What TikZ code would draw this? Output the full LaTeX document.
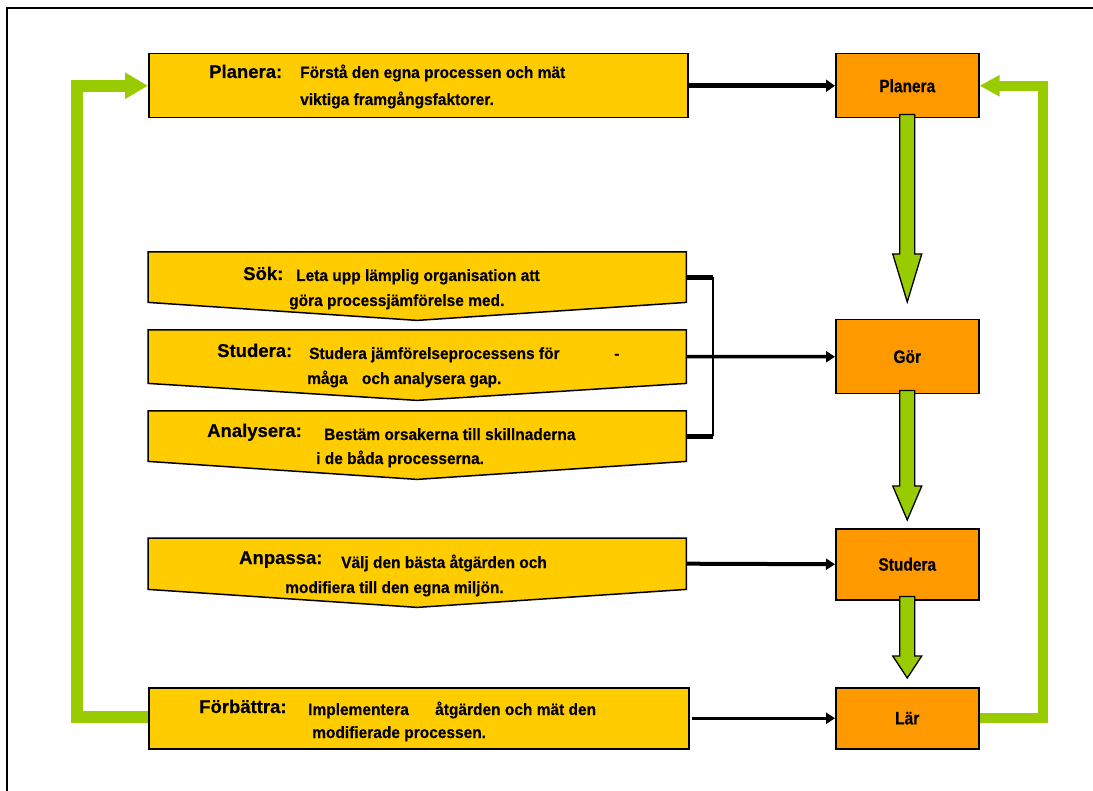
\documentclass[tikz,border=0pt]{standalone}
\usepackage{fontspec}
\setmainfont{Liberation Sans}[FakeBold=0.4]
\newfontfamily\descf{Liberation Sans}[FakeStretch=0.95, FakeBold=0.4]
\newfontfamily\orgf{Liberation Sans}[FakeStretch=0.86, FakeBold=0.4]
\usetikzlibrary{arrows.meta,calc}
\definecolor{yel}{HTML}{FFCC00}
\definecolor{org}{HTML}{FF9900}
\definecolor{grn}{HTML}{99CC00}
\newcommand\garrow[4]{%
  \draw[fill=grn, line width=1.3pt, line join=miter]
    ($(#1.south)+(-7.5,-4)$) -- ($(#2.north)+(-7.5,-#4)$) -- ($(#2.north)+(-14.5,-#4)$)
    -- ($(#2.north)+(0,-#3)$) -- ($(#2.north)+(14.5,-#4)$) -- ($(#2.north)+(7.5,-#4)$)
    -- ($(#1.south)+(7.5,-4)$) -- cycle;}
\newcommand\chevron[2]{%
  \fill[yel] (#1.north west) -- (#1.north east) -- (#1.south east) -- ($(#1.south)+(0,#2)$) -- (#1.south west) -- cycle;
  \draw[line width=1.5pt, line join=miter] (#1.north west) -- (#1.north east) -- (#1.south east) -- ($(#1.south)+(0,#2)$) -- (#1.south west) -- cycle;}
\begin{document}
\begin{tikzpicture}[x=1pt,y=-1pt,
  lbl/.style={anchor=base west, inner sep=0, font=\bfseries\fontsize{18.5}{20}\selectfont},
  dsc/.style={anchor=base west, inner sep=0, font=\descf\bfseries\fontsize{16.3}{18}\selectfont},
  ybox/.style={draw=black, line width=1.5pt, fill=yel, rectangle, anchor=north west, inner sep=0, minimum width=539pt},
  cbox/.style={rectangle, anchor=north west, inner sep=0, minimum width=538pt},
  obox/.style={draw=black, line width=1.5pt, fill=org, rectangle, anchor=north west, inner sep=0, minimum width=143pt, font=\orgf\bfseries\fontsize{18}{20}\selectfont},
  gline/.style={draw=grn, line join=miter},
  conn/.style={draw=black, -{Triangle[length=9pt,width=11pt]}}
]
\useasboundingbox (0,0) rectangle (1093,791);
\fill[white] (0,0) rectangle (1093,791);
\draw[line width=2pt] (7,791) -- (7,8) -- (1093,8);

% coordinates for feedback lines
\coordinate (rx) at (1043,0);
\coordinate (lx) at (77,0);

% boxes (placement)
\node[ybox, minimum height=64pt] (plan) at (148,53) {};
\node[cbox, minimum height=50pt] (sok) at (148,252) {};
\node[cbox, minimum height=53pt] (stu) at (148,330) {};
\node[cbox, minimum height=50pt] (ana) at (148,411) {};
\node[cbox, minimum height=51pt] (anp) at (148,538) {};

\node[obox, minimum height=64pt] (oplan) at (835,53) {Planera};
\node[obox, minimum height=74pt] (ogor) at (835,319) {Gör};
\node[obox, minimum height=71pt] (ostu) at (835,528) {Studera};
\node[obox, minimum height=61pt] (olar) at (835,687) {Lär};

% green feedback lines
\draw[gline, line width=10pt, -{Triangle[length=20pt,width=20pt]}]
  (olar.east) -- (olar.east -| rx) -- (oplan.east -| rx) -- (oplan.east);
\path (148,717) coordinate (fbw);
\draw[gline, line width=12pt, -{Triangle[length=23pt,width=25pt]}]
  ($(fbw)+(1,0)$) -- (fbw -| lx) -- (plan.west -| lx) -- (plan.west);

\node[ybox, minimum width=540pt, minimum height=61pt] (fb) at (148,687) {};

\chevron{sok}{18}
\chevron{stu}{17}
\chevron{ana}{18}
\chevron{anp}{18}

% green block arrows
\garrow{oplan}{ogor}{17}{65}
\garrow{ogor}{ostu}{8}{42}
\garrow{ostu}{olar}{9}{31}

% texts
\node[lbl] (t1) at (209,78) {Planera:};
\node[dsc] (t1a) at (300,78) {Förstå den egna processen och mät};
\node[dsc] (t1b) at (300,105) {viktiga framgångsfaktorer.};

\node[lbl] (t2) at (243,280) {Sök:};
\node[dsc] (t2a) at (296,281) {Leta upp lämplig organisation att};
\node[dsc] (t2b) at (289,306) {göra processjämförelse med.};

\node[lbl] (t3) at (217,357) {Studera:};
\node[dsc] (t3a) at (309,359) {Studera jämförelseprocessens för};
\node[dsc] (t3c) at (614,359) {-};
\node[dsc] (t3b) at (307,384) {måga\hspace{10pt} och analysera gap.};

\node[lbl] (t4) at (207,437) {Analysera:};
\node[dsc] (t4a) at (324,440) {Bestäm orsakerna till skillnaderna};
\node[dsc] (t4b) at (316,464) {i de båda processerna.};

\node[lbl] (t5) at (239,564) {Anpassa:};
\node[dsc] (t5a) at (341,568) {Välj den bästa åtgärden och};
\node[dsc] (t5b) at (285,593) {modifiera till den egna miljön.};

\node[lbl] (t6) at (199,713) {Förbättra:};
\node[dsc] (t6a) at (308,715) {Implementera};
\node[dsc] (t6c) at (435,715) {åtgärden och mät den};
\node[dsc] (t6b) at (312,738) {modifierade processen.};

% black connectors
\draw[conn, line width=5pt, -{Triangle[length=9pt,width=12pt]}] (plan.east) -- (oplan.west);
\draw[line width=5pt] (sok.east) -- ++(27,0) coordinate (b1);
\draw[line width=5pt] (ana.east) -- ++(27,0) coordinate (b2);
\draw[line width=2pt] (b1) -- (b2);
\draw[conn, line width=3.5pt] (stu.east) -- (ogor.west);
\draw[conn, line width=4pt] (anp.east) -- (ostu.west);
\draw[conn, line width=2.5pt] ($(fb.east)+(2,0)$) -- (olar.west);
\end{tikzpicture}
\end{document}
